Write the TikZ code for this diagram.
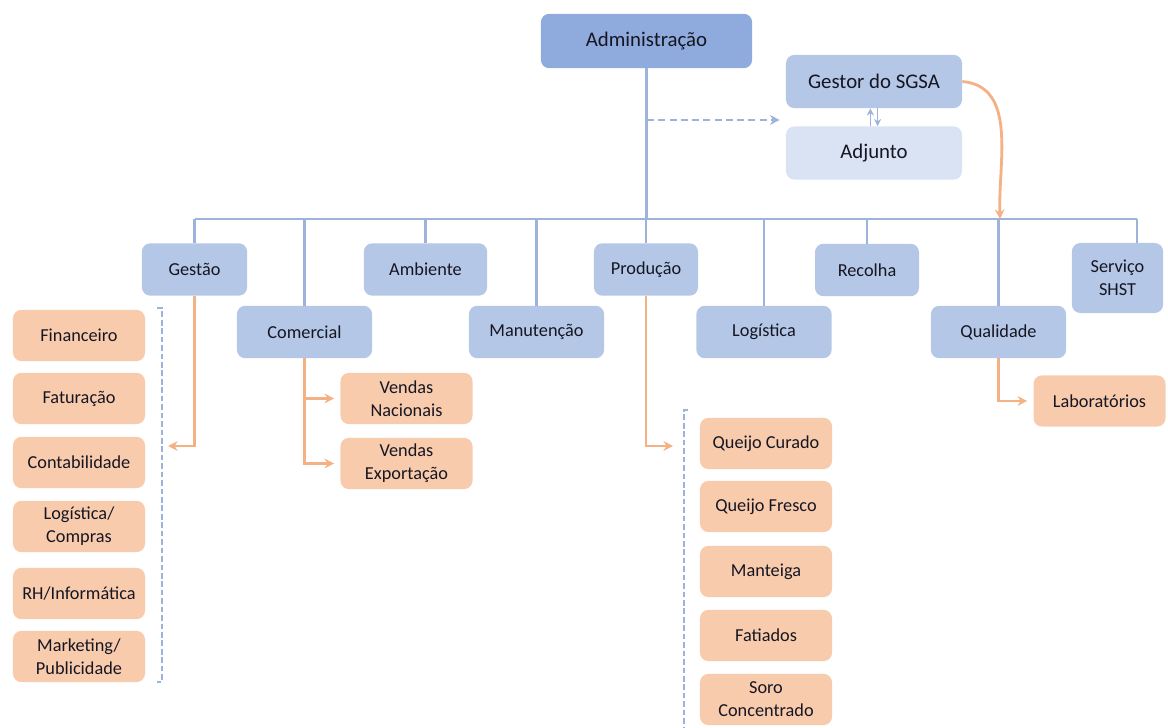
\documentclass[tikz,border=0pt]{standalone}
\usepackage{fontspec}
\setmainfont{Carlito}
\usetikzlibrary{positioning,arrows.meta,calc}

\definecolor{admblue}{HTML}{8FAADC}
\definecolor{deptblue}{HTML}{B4C7E7}
\definecolor{adjblue}{HTML}{DAE3F3}
\definecolor{suborange}{HTML}{F8CBAD}
\definecolor{lineblue}{HTML}{9EB3DB}
\definecolor{lineorange}{HTML}{F4B183}
\definecolor{txt}{HTML}{161622}

\begin{document}
\begin{tikzpicture}[
    x=0.025cm, y=-0.025cm,
    every node/.style={font=\fontsize{13}{16.5}\selectfont, text=txt},
    topbox/.style={rectangle, rounded corners=6pt, minimum width=4.4cm, minimum height=1.33cm, align=center, font=\fontsize{14.8}{17}\selectfont},
    dept/.style={rectangle, fill=deptblue, rounded corners=6pt, minimum width=3.38cm, minimum height=1.31cm, align=center},
    subbox/.style={rectangle, fill=suborange, rounded corners=6pt, minimum width=3.3cm, minimum height=1.28cm, align=center},
    link/.style={draw=lineblue, line width=1.7pt},
    subarrow/.style={draw=lineorange, line width=2pt, -{Stealth[length=2.4mm, width=2.4mm]}, shorten >=1.5mm},
    dasharrow/.style={draw=lineblue, line width=1.8pt, dashed, dash pattern=on 5pt off 3pt, -{Stealth[length=2.4mm, width=2.4mm]}, shorten >=1.5mm},
    tinyarrow/.style={draw=lineblue, line width=1.1pt, -{Stealth[length=1.8mm, width=1.8mm]}},
    bracket/.style={draw=lineblue, line width=1pt, dash pattern=on 4pt off 2pt}
]
\useasboundingbox (0,0) rectangle (1168,728);

% === Top ===
\node[topbox, fill=admblue, minimum width=5.28cm, minimum height=1.36cm] (adm) at (646.5,41) {Administração};
\node[topbox, fill=deptblue] (gestor) at (874,81.5) {Gestor do SGSA};
\node[topbox, fill=adjblue] (adjunto) at (874,153) {Adjunto};

% === Departments ===
\node[dept, minimum width=2.63cm] (gestao) at (194.5,269.5) {Gestão};
\node[dept, minimum width=3.08cm] (ambiente) at (425.5,269.5) {Ambiente};
\node[dept, minimum width=2.6cm] (producao) at (646,269.5) {Produção};
\node[dept, minimum width=2.6cm] (recolha) at (867,270) {Recolha};
\node[dept, minimum width=2.28cm, minimum height=1.75cm] (shst) at (1117.5,278) {Serviço\\SHST};
\node[dept] (comercial) at (304.5,332) {Comercial};
\node[dept] (manutencao) at (536.5,332) {Manutenção};
\node[dept] (logistica) at (764,332) {Logística};
\node[dept] (qualidade) at (998.5,332) {Qualidade};

% === Gestao sub-units ===
\node[subbox] (financeiro) at (79,335.5) {Financeiro};
\node[subbox] (faturacao) at (79,398.5) {Faturação};
\node[subbox] (contab) at (79,462.5) {Contabilidade};
\node[subbox] (compras) at (79,526.5) {Logística/\\Compras};
\node[subbox] (rhinfo) at (79,593.5) {RH/Informática};
\node[subbox] (marketing) at (79,656.5) {Marketing/\\Publicidade};

% === Comercial sub-units ===
\node[subbox] (vnac) at (406.5,398.5) {Vendas\\Nacionais};
\node[subbox] (vexp) at (406.5,463.5) {Vendas\\Exportação};

% === Producao sub-units ===
\node[subbox] (qcurado) at (766,443.5) {Queijo Curado};
\node[subbox] (qfresco) at (766,506.5) {Queijo Fresco};
\node[subbox] (manteiga) at (766,571.5) {Manteiga};
\node[subbox] (fatiados) at (766,635.5) {Fatiados};
\node[subbox] (soro) at (766,699.5) {Soro\\Concentrado};

% === Qualidade sub-unit ===
\node[subbox] (lab) at (1099.5,401) {Laboratórios};

% === Bus ===
\coordinate (busl) at (195,219);
\coordinate (busr) at (1137,219);
\draw[link] (busl) -- (busr);
\draw[link] (adm.south) -- (adm.south |- busl);
\foreach \n in {gestao,ambiente,producao,recolha,comercial,manutencao,logistica,qualidade}
    \draw[link] (\n.north) -- (\n.north |- busl);
\draw[link] (busr) -- (busr |- shst.north);

% === Staff lines ===
\coordinate (admtap) at (647,120);
\draw[dasharrow] (admtap) -- (admtap -| adjunto.west);
\draw[tinyarrow] ([xshift=-0.09cm]adjunto.north) -- ([xshift=-0.09cm]gestor.south);
\draw[tinyarrow] ([xshift=0.09cm]gestor.south) -- ([xshift=0.09cm]adjunto.north);
\coordinate (busq) at (1000,219);
\draw[subarrow, shorten >=0pt] (gestor.east) to[out=-5, in=92] (busq);

% === Sub-unit arrows ===
\coordinate (gestend) at (162,446);
\draw[subarrow] (gestao.south) |- (gestend);
\draw[subarrow] (comercial.south) |- (vnac.west);
\draw[subarrow] (comercial.south) |- (vexp.west);
\coordinate (prodend) at (679,446);
\draw[subarrow] (producao.south) |- (prodend);
\draw[subarrow] (qualidade.south) |- (lab.west);

% === Brackets ===
\draw[bracket] (157,308) -- (162,308) -- (162,682) -- (157,682);
\draw[bracket] (688,410) -- (684,410) -- (684,728);

\end{tikzpicture}
\end{document}
